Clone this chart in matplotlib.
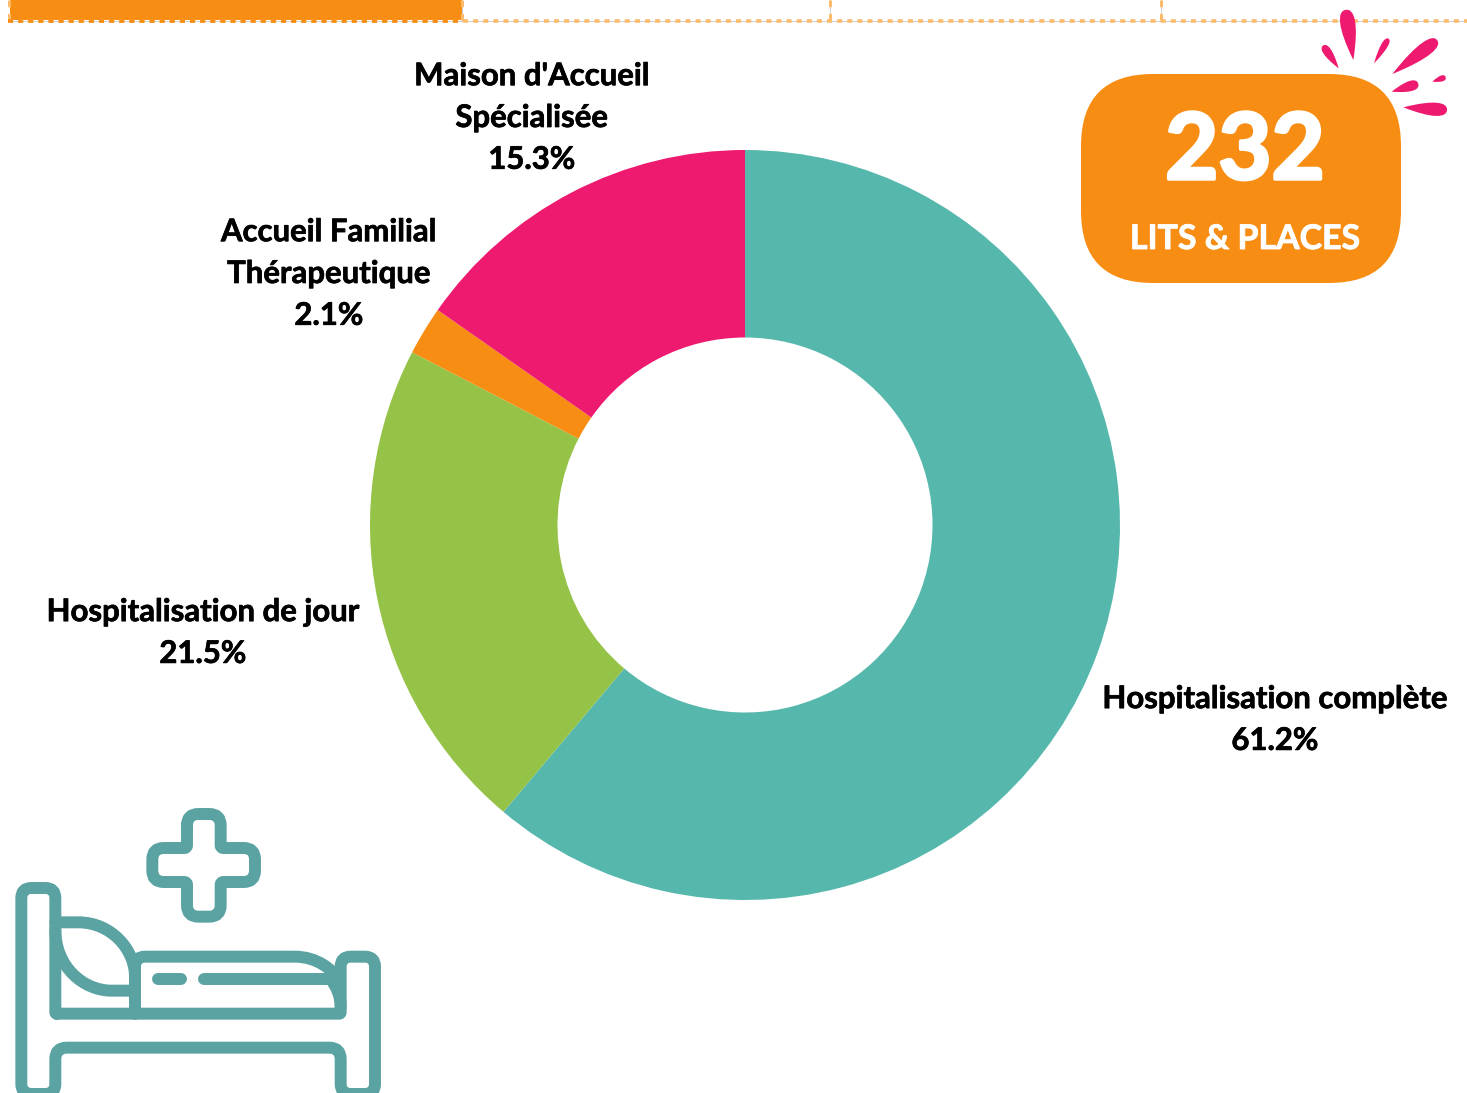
import numpy as np
import matplotlib
matplotlib.use("Agg")
import matplotlib.pyplot as plt
import matplotlib.patheffects as pe
from matplotlib.path import Path
from matplotlib.patches import PathPatch, FancyBboxPatch, Rectangle

categories = ["Hospitalisation complète", "Hospitalisation de jour",
              "Accueil Familial\nThérapeutique", "Maison d'Accueil\nSpécialisée"]
values = [61.2, 21.5, 2.1, 15.3]
colors = ["#56B8AC", "#95C347", "#F88D14", "#EE1A6F"]
label_pos = [(1275, 720), (203, 633), (329, 274), (532, 118)]
total = "232"
total_label = "LITS & PLACES"

W, H = 1467, 1093
ORANGE = "#F88D14"; PINK = "#EE1A6F"; ICON = "#5BA2A2"; DASH = "#FDBB6C"
plt.rcParams['font.family'] = ['Lato', 'DejaVu Sans']
fig = plt.figure(figsize=(W/100, H/100), dpi=100)

# background canvas in pixel coordinates (y downward)
bg = fig.add_axes([0, 0, 1, 1]); bg.set_xlim(0, W); bg.set_ylim(H, 0); bg.axis("off")

# top band
bg.add_patch(Rectangle((10, 0), 452, 20, color=ORANGE, lw=0))
bg.plot([8, W], [21, 21], color="#BBBBBB", lw=0.5)
for x0 in (462, 830, 1161):
    bg.plot([x0, x0], [0, 21], color="#BBBBBB", lw=0.5)
    bg.plot([x0, x0], [0, 21], color=DASH, lw=2.2, dashes=(2.2, 2.2))
bg.plot([9, 9], [0, 21], color=DASH, lw=2.2, dashes=(2.2, 2.2))
bg.plot([8, W], [21, 21], color=DASH, lw=2.6, dashes=(1.4, 1.4))
bg.plot([8, 462], [21, 21], color=ORANGE, lw=2.6, dashes=(1.4, 1.4))

# donut
R, cx, cy = 375, 745, 525
axp = fig.add_axes([(cx-R)/W, 1-(cy+R)/H, 2*R/W, 2*R/H])
axp.pie(values, colors=colors, startangle=90, counterclock=False, radius=1,
        wedgeprops=dict(width=0.5, linewidth=0))
axp.set_xlim(-1, 1); axp.set_ylim(-1, 1); axp.axis("off")

# overlay in pixel coordinates
ov = fig.add_axes([0, 0, 1, 1]); ov.set_xlim(0, W); ov.set_ylim(H, 0); ov.axis("off"); ov.patch.set_alpha(0)

for cat, val, (x, y) in zip(categories, values, label_pos):
    ov.text(x, y, f"{cat}\n{val}%", ha="center", va="center", fontsize=22.4, fontweight="bold",
            color="black", linespacing=1.6,
            path_effects=[pe.withStroke(linewidth=0.5, foreground="black")])

# badge
ov.add_patch(FancyBboxPatch((1081+72, 74+72), 320-144, 209-144,
             boxstyle="round,pad=72,rounding_size=72", fc=ORANGE, ec="none"))
ov.text(1245, 153, total, ha="center", va="center", fontsize=66, fontweight="bold", color="white",
        path_effects=[pe.withStroke(linewidth=2.5, foreground="white")])
ov.text(1245, 239, total_label, ha="center", va="center", fontsize=24.4, fontweight="bold", color="white",
        path_effects=[pe.withStroke(linewidth=0.6, foreground="white")])

# splash
def drop(round_end, tip, width):
    a = np.array(round_end, float); b = np.array(tip, float)
    d = b-a; n = np.array([-d[1], d[0]])/np.hypot(*d)*width/2
    s = a-d*0.14
    pts = [s, s+n*1.05, a+d*0.2+n*1.35, b, a+d*0.2-n*1.35, s-n*1.05, s]
    pts = [(1070+p[0]/3, p[1]/3) for p in pts]
    return Path(pts, [Path.MOVETO]+[Path.CURVE4]*6)
for e, t, w in [((830, 48), (850, 180), 50), ((765, 145), (806, 205), 28), ((950, 125), (912, 190), 22),
                ((1085, 133), (967, 222), 46), ((1122, 233), (1087, 245), 20), ((1035, 254), (965, 275), 34),
                ((1115, 329), (1000, 322), 44)]:
    ov.add_patch(PathPatch(drop(e, t, w), fc=PINK, ec="none"))

# icon, coordinates from a 3x crop at (0,790)
def rounded(pts, r):
    pts = [np.array(p, float) for p in pts]
    n = len(pts); v = []; c = []
    for i in range(n):
        p, q, s = pts[i-1], pts[i], pts[(i+1) % n]
        rr = r[i]
        a = q+(p-q)/np.hypot(*(p-q))*rr; b = q+(s-q)/np.hypot(*(s-q))*rr
        v.append(a); c.append(Path.MOVETO if i == 0 else Path.LINETO)
        v += [q, b]; c += [Path.CURVE3, Path.CURVE3]
    v.append(v[0]); c.append(Path.LINETO)
    return Path([(p[0]/3, 790+p[1]/3) for p in v], c)

def stroke(path):
    ov.add_patch(PathPatch(path, fc="none", ec=ICON, lw=8.6, capstyle="round", joinstyle="round"))

cr = [(561, 72), (662, 72), (662, 174), (765, 174), (765, 276), (662, 276), (662, 380), (561, 380), (561, 276), (457, 276), (457, 174), (561, 174)]
stroke(rounded(cr, [34, 34, 8, 34, 34, 8, 34, 34, 8, 34, 34, 8]))
frame = [(166, 671), (166, 294), (64, 294), (64, 912), (166, 912), (166, 773), (1022, 773), (1022, 912), (1125, 912),
         (1125, 500), (1022, 500), (1022, 671)]
stroke(rounded(frame, [4, 30, 30, 30, 30, 34, 34, 30, 30, 30, 30, 4]))
stroke(Path([(166/3, 790+397/3), (235/3, 790+397/3), (335/3, 790+397/3), (405/3, 790+480/3), (405/3, 790+560/3), (405/3, 790+671/3)],
            [Path.MOVETO, Path.LINETO, Path.CURVE4, Path.CURVE4, Path.CURVE4, Path.LINETO]))
stroke(Path([(166/3, 790+420/3), (166/3, 790+530/3), (250/3, 790+602/3), (335/3, 790+602/3), (405/3, 790+602/3)],
            [Path.MOVETO, Path.CURVE4, Path.CURVE4, Path.CURVE4, Path.LINETO]))
stroke(Path([(405/3, 790+671/3), (405/3, 790+530/3), (405/3, 790+500/3), (435/3, 790+500/3), (885/3, 790+500/3),
             (950/3, 790+500/3), (1000/3, 790+540/3), (1010/3, 790+565/3)],
            [Path.MOVETO, Path.LINETO, Path.CURVE3, Path.CURVE3, Path.LINETO, Path.CURVE4, Path.CURVE4, Path.CURVE4]))
stroke(Path([(1022/3, 790+650/3), (1022/3, 790+620/3), (1010/3, 790+590/3), (992/3, 790+568/3)],
            [Path.MOVETO, Path.CURVE4, Path.CURVE4, Path.CURVE4]))
stroke(Path([(611/3, 790+568/3), (992/3, 790+568/3)]))
stroke(Path([(474/3, 790+568/3), (544/3, 790+568/3)]))

fig.savefig("out.png", dpi=100, facecolor="white")
